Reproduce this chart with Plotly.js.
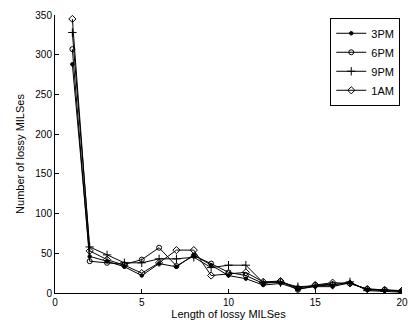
<!DOCTYPE html>
<html>
<head>
<meta charset="utf-8">
<script src="https://cdn.plot.ly/plotly-3.0.1.min.js"></script>
<style>html,body{margin:0;padding:0;background:#fff;}#chart{width:409px;height:320px;}</style>
</head>
<body>
<div id="chart"></div>
<script>
const lengths = [1,2,3,4,5,6,7,8,9,10,11,12,13,14,15,16,17,18,19,20];
const pm3 = [288,46,40,33,22,37,33,48,35,22,18,10,12,5,8,8,13,4,3,2];
const pm6 = [307,40,38,36,42,57,34,47,37,26,22,12,15,4,10,11,12,5,4,2];
const pm9 = [328,58,48,38,38,43,43,45,32,35,35,13,13,8,9,10,14,3,2,1];
const am1 = [345,53,42,35,25,38,54,54,22,24,26,14,15,6,10,13,12,5,4,3];
const seriesNames = ['3PM','6PM','9PM','1AM'];
const xTicks = [0,5,10,15,20];
const yTicks = [0,50,100,150,200,250,300,350];

const symbols = ['circle','circle-open','cross-thin-open','diamond-open'];
const sizes = [3.5,5,6,5.5];
const data = [pm3,pm6,pm9,am1].map((ys,i)=>({
  x: lengths, y: ys, name: seriesNames[i], type:'scatter', mode:'lines+markers',
  line:{color:'#000', width:1},
  marker:{symbol:symbols[i], size:sizes[i], color:'#000', line:{color:'#000', width:1}}
}));

const layout = {
  width:409, height:320,
  margin:{l:55, r:7, t:15, b:27},
  paper_bgcolor:'#fff', plot_bgcolor:'#fff',
  font:{family:'Liberation Sans, Arial, sans-serif', size:10, color:'#000'},
  showlegend:true,
  legend:{x:0.995, y:0.99, xanchor:'right', yanchor:'top', bordercolor:'#000', borderwidth:1,
    bgcolor:'#fff', font:{size:11}, itemwidth:30, tracegroupgap:0},
  xaxis:{range:[0,20], tickvals:xTicks, ticktext:xTicks.map(String), ticks:'inside', ticklen:4,
    ticklabeloverflow:'allow',
    showline:true, linecolor:'#000', linewidth:1, showgrid:false, zeroline:false, tickcolor:'#000',
    title:{text:'Length of lossy MILSes', font:{size:11}, standoff:2}},
  yaxis:{range:[0,350], tickvals:yTicks, ticktext:yTicks.map(String), ticks:'inside', ticklen:4,
    showline:true, linecolor:'#000', linewidth:1, showgrid:false, zeroline:false, tickcolor:'#000',
    title:{text:'Number of lossy MILSes', font:{size:11}, standoff:8}}
};
Plotly.newPlot('chart', data, layout, {displayModeBar:false, staticPlot:true});
</script>
</body>
</html>
